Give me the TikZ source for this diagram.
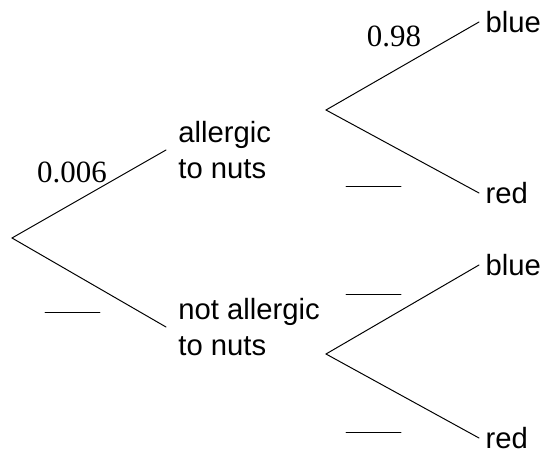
\documentclass[tikz,border=0pt]{standalone}
\usepackage{fontspec}
\setmainfont{Liberation Sans}
\newfontfamily\probfont{Liberation Serif}

\begin{document}
\begin{tikzpicture}[x=0.025cm,y=-0.025cm,line width=0.7pt,line cap=round,
  font=\fontsize{20.8}{25.6}\selectfont,
  event/.style={anchor=west,align=left,inner xsep=8.5pt,inner ysep=0pt},
  outcome/.style={anchor=west,inner xsep=4.3pt,inner ysep=0pt},
  prob/.style={anchor=base,font=\fontsize{22}{26}\probfont}]
\useasboundingbox (0,0) rectangle (541,453);
% first stage
\coordinate (start) at (12,238);
\node[event] (nuts) at (166,150) {allergic\\to nuts};
\node[event] (nonuts) at (166,327) {not allergic\\to nuts};
\draw (start) -- (nuts.west);
\draw (start) -- (nonuts.west);
\node[prob] (pnuts) at (72,183) {0.006};
% second stage
\coordinate (nutsfork) at (326,110);
\coordinate (nonutsfork) at (326,354);
\node[outcome] (nutsblue) at (479,22) {blue};
\node[outcome] (nutsred) at (479,193) {red};
\node[outcome] (nonutsblue) at (479,265) {blue};
\node[outcome] (nonutsred) at (479,438) {red};
\draw (nutsfork) -- (nutsblue.west);
\draw (nutsfork) -- (nutsred.west);
\draw (nonutsfork) -- (nonutsblue.west);
\draw (nonutsfork) -- (nonutsred.west);
\node[prob] (pblue) at (394,47) {0.98};
% blanks to fill in
\coordinate (gapnonuts) at (45,312);
\coordinate (gapred) at (346,186);
\coordinate (gapblue) at (346,294);
\coordinate (gapred2) at (346,432);
\foreach \g in {gapnonuts,gapred,gapblue,gapred2}
  \draw (\g) -- ++(55,0);
\end{tikzpicture}
\end{document}
